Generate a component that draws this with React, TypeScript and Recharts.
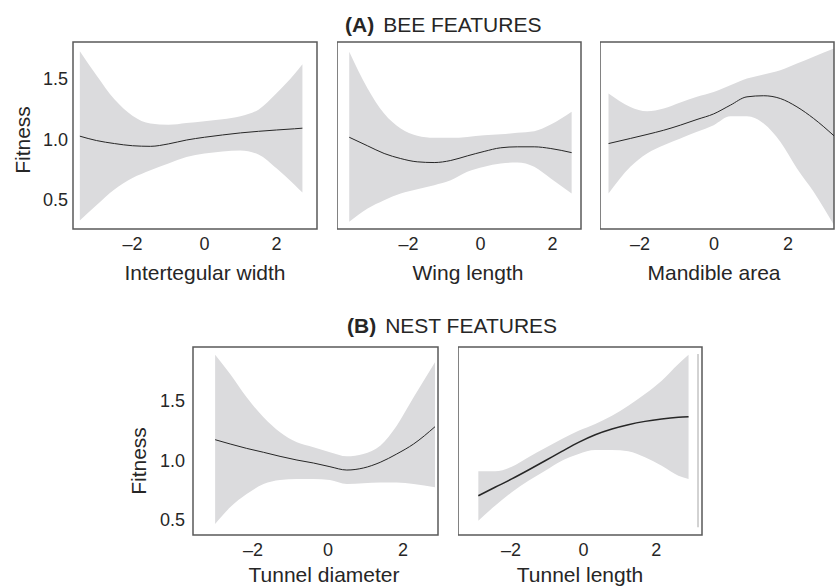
import { Area, ComposedChart, Line, ReferenceArea, ReferenceLine, XAxis, YAxis } from "recharts";

const FONT = '"Liberation Sans", Arial, Helvetica, sans-serif';
const INK = "#262626";
const BAND = "#dbdbdd";
const FRAME = "#5a5a5a";

const xTicks = [-2, 0, 2];
const yTicks = [0.5, 1.0, 1.5];

// (A) bee features
const intertegularX = [-3.46, -3.0, -2.5, -2.0, -1.5, -1.0, -0.5, 0, 0.5, 1.0, 1.5, 2.0, 2.5, 2.72];
const intertegularFit = [1.026, 0.99, 0.965, 0.947, 0.942, 0.962, 0.994, 1.017, 1.036, 1.053, 1.066, 1.077, 1.087, 1.092];
const intertegularUpper = [1.728, 1.53, 1.33, 1.195, 1.13, 1.12, 1.135, 1.15, 1.165, 1.19, 1.245, 1.38, 1.54, 1.62];
const intertegularLower = [0.33, 0.455, 0.585, 0.68, 0.745, 0.8, 0.853, 0.882, 0.9, 0.908, 0.875, 0.76, 0.625, 0.56];

const wingX = [-3.65, -3.14, -2.68, -2.22, -1.76, -1.29, -0.83, -0.37, 0.1, 0.56, 1.02, 1.49, 1.95, 2.53];
const wingFit = [1.017, 0.946, 0.883, 0.841, 0.814, 0.808, 0.825, 0.863, 0.9, 0.93, 0.938, 0.938, 0.924, 0.89];
const wingUpper = [1.723, 1.42, 1.213, 1.089, 1.029, 1.012, 1.012, 1.02, 1.034, 1.042, 1.054, 1.067, 1.122, 1.227];
const wingLower = [0.318, 0.428, 0.497, 0.552, 0.588, 0.621, 0.662, 0.731, 0.773, 0.8, 0.808, 0.773, 0.676, 0.552];

const mandibleX = [-2.85, -2.26, -1.81, -1.36, -0.91, -0.46, -0.01, 0.44, 0.89, 1.34, 1.79, 2.24, 2.69, 3.24];
const mandibleFit = [0.965, 1.007, 1.04, 1.075, 1.117, 1.164, 1.21, 1.282, 1.351, 1.36, 1.337, 1.268, 1.172, 1.029];
const mandibleUpper = [1.379, 1.268, 1.232, 1.255, 1.304, 1.351, 1.39, 1.447, 1.502, 1.536, 1.571, 1.626, 1.682, 1.75];
const mandibleLower = [0.552, 0.773, 0.883, 0.951, 1.007, 1.062, 1.117, 1.19, 1.19, 1.13, 0.979, 0.759, 0.566, 0.29];

// (B) nest features
const diameterX = [-3.01, -2.61, -2.17, -1.72, -1.28, -0.83, -0.39, 0.05, 0.5, 0.94, 1.39, 1.83, 2.28, 2.85];
const diameterFit = [1.175, 1.139, 1.102, 1.069, 1.035, 1.004, 0.979, 0.948, 0.92, 0.937, 0.985, 1.055, 1.139, 1.284];
const diameterUpper = [1.889, 1.727, 1.531, 1.363, 1.237, 1.153, 1.111, 1.069, 1.035, 1.055, 1.124, 1.293, 1.531, 1.825];
const diameterLower = [0.466, 0.607, 0.718, 0.802, 0.836, 0.845, 0.845, 0.836, 0.802, 0.808, 0.816, 0.816, 0.802, 0.775];

const lengthX = [-2.9, -2.44, -1.98, -1.52, -1.06, -0.6, -0.14, 0.32, 0.78, 1.23, 1.69, 2.15, 2.61, 2.89];
const lengthFit = [0.704, 0.775, 0.845, 0.92, 0.998, 1.077, 1.153, 1.217, 1.265, 1.301, 1.329, 1.349, 1.363, 1.368];
const lengthUpper = [0.909, 0.909, 0.948, 1.027, 1.105, 1.181, 1.25, 1.307, 1.376, 1.461, 1.559, 1.671, 1.811, 1.889];
const lengthLower = [0.494, 0.62, 0.733, 0.83, 0.914, 0.998, 1.055, 1.088, 1.088, 1.077, 1.027, 0.956, 0.872, 0.845];

// the thin grey rule at the right of the tunnel length panel
const lengthEdgeX = 3.15;
const lengthEdgeY: [number, number] = [0.44, 1.895];

type Row = { x: number; fit: number; band: [number, number] };

const toRows = (xs: number[], fit: number[], lower: number[], upper: number[]): Row[] =>
  xs.map((x, i) => ({ x, fit: fit[i], band: [lower[i], upper[i]] }));

const fmtX = (v: number) => (v < 0 ? `\u2013${Math.abs(v)}` : `${v}`);

const Y_W = 73;
const M_TOP = 4;
const M_RIGHT = 4;
const X_H = 58;

interface PanelProps {
  rows: Row[];
  left: number;
  top: number;
  width: number;
  height: number;
  xDomain: [number, number];
  yDomain: [number, number];
  xLabel: string;
  labelShift: number;
  labelDrop?: number;
  showY?: boolean;
  yLabelDx?: number;
  yLabelDy?: number;
  yTickSize?: number;
  lineWidth?: number;
  edge?: { x: number; y: [number, number] };
}

const Panel = ({
  rows,
  left,
  top,
  width,
  height,
  xDomain,
  yDomain,
  xLabel,
  labelShift,
  labelDrop = 51,
  showY = false,
  yLabelDx = 22,
  yLabelDy = 0,
  yTickSize = 6,
  lineWidth = 1,
  edge,
}: PanelProps) => {
  const yW = showY ? Y_W : 0;

  const xTitle = (props: any) => {
    const vb = props.viewBox || {};
    return (
      <text
        x={vb.x + vb.width / 2 + labelShift}
        y={vb.y + labelDrop}
        textAnchor="middle"
        fontSize={21}
        fontFamily={FONT}
        fill={INK}
      >
        {xLabel}
      </text>
    );
  };

  const yTitle = (props: any) => {
    const vb = props.viewBox || {};
    const cx = vb.x + yLabelDx;
    const cy = vb.y + vb.height / 2 + yLabelDy;
    return (
      <text
        x={cx}
        y={cy}
        transform={`rotate(-90 ${cx} ${cy})`}
        textAnchor="middle"
        dominantBaseline="central"
        fontSize={21}
        fontFamily={FONT}
        fill={INK}
      >
        Fitness
      </text>
    );
  };

  return (
    <div style={{ position: "absolute", left: left - yW, top: top - M_TOP }}>
      <ComposedChart
        width={yW + width + M_RIGHT}
        height={M_TOP + height + X_H}
        data={rows}
        margin={{ top: M_TOP, right: M_RIGHT, left: 0, bottom: 0 }}
      >
        <XAxis
          type="number"
          dataKey="x"
          domain={xDomain}
          ticks={xTicks}
          allowDataOverflow
          axisLine={false}
          tickLine={false}
          height={X_H}
          tick={{ fill: INK, fontSize: 18, fontFamily: FONT }}
          tickFormatter={fmtX}
          label={xTitle}
        />
        <YAxis
          type="number"
          hide={!showY}
          width={yW}
          domain={yDomain}
          ticks={yTicks}
          allowDataOverflow
          axisLine={false}
          tickLine={false}
          tickSize={yTickSize}
          tickMargin={2}
          tick={{ fill: INK, fontSize: 18, fontFamily: FONT }}
          tickFormatter={(v: number) => v.toFixed(1)}
          label={showY ? yTitle : undefined}
        />
        <Area
          dataKey="band"
          type="monotone"
          fill={BAND}
          fillOpacity={1}
          stroke="none"
          isAnimationActive={false}
        />
        <Line
          dataKey="fit"
          type="monotone"
          stroke={INK}
          strokeWidth={lineWidth}
          dot={false}
          activeDot={false}
          isAnimationActive={false}
        />
        {edge && (
          <ReferenceLine
            segment={[
              { x: edge.x, y: edge.y[0] },
              { x: edge.x, y: edge.y[1] },
            ]}
            stroke="#c4c4c4"
            strokeWidth={1.5}
          />
        )}
        <ReferenceArea
          x1={xDomain[0]}
          x2={xDomain[1]}
          y1={yDomain[0]}
          y2={yDomain[1]}
          fill="none"
          fillOpacity={0}
          stroke={FRAME}
          strokeWidth={1.5}
        />
      </ComposedChart>
    </div>
  );
};

const yDomainA: [number, number] = [0.259, 1.804];
const yDomainB: [number, number] = [0.374, 1.954];

const App = () => {
  return (
    <div
      style={{
        position: "absolute",
        left: 0,
        top: 0,
        width: 835,
        height: 588,
        background: "#fff",
        overflow: "hidden",
        fontFamily: FONT,
      }}
    >
      <svg width={835} height={588} style={{ position: "absolute", left: 0, top: 0 }}>
        <text x={345} y={32} fontSize={21} fontFamily={FONT} fill={INK}>
          <tspan fontWeight="bold">(A)</tspan>
          <tspan dx={9}>BEE FEATURES</tspan>
        </text>
        <text x={347} y={333} fontSize={21} fontFamily={FONT} fill={INK}>
          <tspan fontWeight="bold">(B)</tspan>
          <tspan dx={9}>NEST FEATURES</tspan>
        </text>
      </svg>

      <Panel
        rows={toRows(intertegularX, intertegularFit, intertegularLower, intertegularUpper)}
        left={73}
        top={41.5}
        width={244}
        height={187}
        xDomain={[-3.65, 3.125]}
        yDomain={yDomainA}
        xLabel="Intertegular width"
        labelShift={10}
        showY
        yLabelDx={22}
        yLabelDy={4.5}
        yTickSize={3}
      />
      <Panel
        rows={toRows(wingX, wingFit, wingLower, wingUpper)}
        left={337}
        top={41.5}
        width={244}
        height={187}
        xDomain={[-3.99, 2.79]}
        yDomain={yDomainA}
        xLabel="Wing length"
        labelShift={9}
      />
      <Panel
        rows={toRows(mandibleX, mandibleFit, mandibleLower, mandibleUpper)}
        left={600}
        top={41.5}
        width={234}
        height={187}
        xDomain={[-3.08, 3.24]}
        yDomain={yDomainA}
        xLabel="Mandible area"
        labelShift={-3}
      />
      <Panel
        rows={toRows(diameterX, diameterFit, diameterLower, diameterUpper)}
        left={193}
        top={347}
        width={245}
        height={188}
        xDomain={[-3.6, 2.93]}
        yDomain={yDomainB}
        xLabel="Tunnel diameter"
        labelShift={8.5}
        labelDrop={47}
        showY
        yLabelDx={18}
        yLabelDy={20}
        yTickSize={6}
      />
      <Panel
        rows={toRows(lengthX, lengthFit, lengthLower, lengthUpper)}
        left={458}
        top={347}
        width={244}
        height={188}
        xDomain={[-3.46, 3.26]}
        yDomain={yDomainB}
        xLabel="Tunnel length"
        labelShift={0}
        labelDrop={47}
        lineWidth={1.5}
        edge={{ x: lengthEdgeX, y: lengthEdgeY }}
      />
    </div>
  );
};

export default App;
